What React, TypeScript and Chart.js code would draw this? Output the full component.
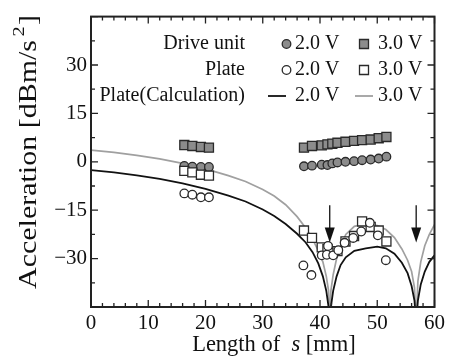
import React, { useEffect, useRef } from 'react';
import { Chart, registerables } from 'chart.js';

Chart.register(...registerables);

// ---- data ----
const leftX = [16.3, 17.7, 19.2, 20.6];
const rightX = [37.2, 38.6, 40.3, 41.3, 42.15, 43.05, 44.45, 45.95, 47.35, 48.85, 50.25, 51.6];

const drive2Left = [-1.3, -1.5, -1.6, -1.6];
const drive2Right = [-1.4, -1.2, -0.9, -1.0, -0.5, -0.2, 0, 0.2, 0.5, 0.7, 1.0, 1.6];
const drive3Left = [5.2, 4.9, 4.6, 4.4];
const drive3Right = [4.4, 4.9, 5.1, 5.4, 5.6, 5.9, 6.2, 6.5, 6.7, 6.9, 7.3, 7.7];

const plate2Left = [-9.8, -10.2, -11.0, -11.0];
const plate2RightX = [37.1, 38.5, 40.3, 41.2, 41.4, 42.3, 43.2, 44.3, 45.8, 47.2, 48.7, 50.1, 51.5];
const plate2Right = [-32.1, -35.1, -29.0, -28.8, -26.1, -29.0, -27.4, -25.1, -23.6, -21.6, -18.9, -22.8, -30.5];
const plate3Left = [-2.8, -3.3, -4.0, -4.3];
const plate3Right = [-21.3, -23.6, -26.5, -27.0, -28.3, -27.7, -24.7, -23.0, -18.5, -20.2, -21.3, -24.7];

const calcX = [0, 4, 8, 12, 16, 20, 24, 27, 30, 32, 34, 36, 37.5, 38.7, 39.7, 40.5, 41.1, 41.5, 41.7, 41.9,
  42.3, 42.9, 43.6, 44.5, 46, 48, 50, 51.5, 53, 54.3, 55.3, 56, 56.5, 56.8, 57.1, 57.6, 58.3, 59.1, 60];
const calc2 = [-2.6, -3.3, -4.2, -5.3, -6.7, -8.4, -10.5, -12.3, -14.8, -16.8, -19.3, -22.3, -25, -28, -31.5, -35.5, -40, -45, -50, -45,
  -40, -35.5, -32, -29.6, -27.6, -26.8, -26.3, -26.8, -28.5, -31.3, -34.5, -38.5, -43, -50, -43, -38, -34, -31, -29];
const calc3 = [3.6, 2.9, 2.0, 0.9, -0.5, -2.2, -4.3, -6.1, -8.6, -10.6, -13.3, -17, -20.5, -24, -27.5, -31, -35.5, -40, -50, -40,
  -35, -30, -26.5, -22.5, -20, -19.2, -19.8, -21, -23.5, -27, -30.5, -34, -39, -50, -37, -31, -26, -22.5, -19.5];

const arrowX = [41.7, 56.8];
const arrowTop = -13.5;
const arrowBottom = -25;

const xTicks = [0, 10, 20, 30, 40, 50, 60];
const yTicks = [-30, -15, 0, 15, 30];

const legendRows = ['Drive unit', 'Plate', 'Plate(Calculation)'];
const legendVolts = ['2.0 V', '3.0 V'];

const FAMILY = 'Liberation Serif';
const FONT = `"${FAMILY}", serif`;
const GREY = '#8c8c8c';
const EDGE = '#2a2a2a';
const LINE_GREY = '#a0a0a0';

const pts = (xs: number[], ys: number[]) => xs.map((x, i) => ({ x, y: ys[i] }));

function drawMarker(ctx: CanvasRenderingContext2D, kind: string, x: number, y: number, fill: string) {
  ctx.beginPath();
  if (kind === 'circle') ctx.arc(x, y, 4.3, 0, Math.PI * 2);
  else ctx.rect(x - 4.5, y - 4.5, 9, 9);
  ctx.fillStyle = fill;
  ctx.fill();
  ctx.lineWidth = 1.3;
  ctx.strokeStyle = EDGE;
  ctx.stroke();
}

const decor = {
  id: 'decor',
  afterDatasetsDraw(chart: any) {
    const { ctx, chartArea: a, scales } = chart;
    const xs = scales.x;
    const ys = scales.y;
    ctx.save();
    // frame
    ctx.strokeStyle = '#222';
    ctx.lineWidth = 2;
    ctx.strokeRect(a.left, a.top, a.right - a.left, a.bottom - a.top);
    // inward ticks
    ctx.lineWidth = 1.3;
    ctx.beginPath();
    for (let i = 0; i <= 30; i++) {
      const v = i * 2;
      const px = xs.getPixelForValue(v);
      const len = i % 5 === 0 ? 7 : 4;
      ctx.moveTo(px, a.bottom); ctx.lineTo(px, a.bottom - len);
      ctx.moveTo(px, a.top); ctx.lineTo(px, a.top + len);
    }
    for (let i = 0; i <= 12; i++) {
      const v = -45 + 7.5 * i;
      const py = ys.getPixelForValue(v);
      const len = i % 2 === 0 ? 7 : 4;
      ctx.moveTo(a.left, py); ctx.lineTo(a.left + len, py);
      ctx.moveTo(a.right, py); ctx.lineTo(a.right - len, py);
    }
    ctx.stroke();

    // arrows
    ctx.fillStyle = '#111';
    ctx.strokeStyle = '#111';
    ctx.lineWidth = 1.3;
    arrowX.forEach((v) => {
      const px = xs.getPixelForValue(v);
      const top = ys.getPixelForValue(arrowTop);
      const bot = ys.getPixelForValue(arrowBottom);
      ctx.beginPath();
      ctx.moveTo(px, top);
      ctx.lineTo(px, bot - 8);
      ctx.stroke();
      ctx.beginPath();
      ctx.moveTo(px - 5, bot - 15);
      ctx.lineTo(px + 5, bot - 15);
      ctx.lineTo(px, bot);
      ctx.closePath();
      ctx.fill();
    });

    // legend
    const rowY = [44, 70, 96];
    ctx.font = `20px ${FONT}`;
    ctx.fillStyle = '#111';
    ctx.textBaseline = 'middle';
    ctx.textAlign = 'right';
    legendRows.forEach((t, i) => ctx.fillText(t, 245, rowY[i]));
    ctx.textAlign = 'left';
    rowY.forEach((yy) => {
      ctx.fillStyle = '#111';
      ctx.fillText(legendVolts[0], 295, yy);
      ctx.fillText(legendVolts[1], 378, yy);
    });
    drawMarker(ctx, 'circle', 286.5, rowY[0], GREY);
    drawMarker(ctx, 'rect', 364, rowY[0], GREY);
    drawMarker(ctx, 'circle', 286.5, rowY[1], '#fff');
    drawMarker(ctx, 'rect', 364, rowY[1], '#fff');
    ctx.lineWidth = 1.8;
    ctx.strokeStyle = '#111';
    ctx.beginPath(); ctx.moveTo(268, rowY[2]); ctx.lineTo(286, rowY[2]); ctx.stroke();
    ctx.strokeStyle = LINE_GREY;
    ctx.beginPath(); ctx.moveTo(355, rowY[2]); ctx.lineTo(373, rowY[2]); ctx.stroke();

    // x axis title with italic s
    ctx.fillStyle = '#111';
    ctx.textBaseline = 'middle';
    ctx.textAlign = 'left';
    const f = `22.5px ${FONT}`;
    const fi = `italic 22.5px ${FONT}`;
    const p1 = 'Length of  ';
    const p2 = 's';
    const p3 = ' [mm]';
    ctx.font = f; const w1 = ctx.measureText(p1).width; const w3 = ctx.measureText(p3).width;
    ctx.font = fi; const w2 = ctx.measureText(p2).width;
    let sx = 274 - (w1 + w2 + w3) / 2;
    const ty = 345;
    ctx.font = f; ctx.fillText(p1, sx, ty); sx += w1;
    ctx.font = fi; ctx.fillText(p2, sx, ty); sx += w2;
    ctx.font = f; ctx.fillText(p3, sx, ty);

    // y axis title with superscript, stretched along its length like the reference
    ctx.save();
    ctx.translate(29, 152);
    ctx.rotate(-Math.PI / 2);
    const q1 = 'Acceleration [dBm/s';
    const q2 = '2';
    const q3 = ']';
    const fy = `25px ${FONT}`;
    const fs = `17px ${FONT}`;
    ctx.font = fy; const v1 = ctx.measureText(q1).width; const v3 = ctx.measureText(q3).width;
    ctx.font = fs; const v2 = ctx.measureText(q2).width + 4;
    const total = v1 + v2 + v3;
    const k = 274 / total;
    ctx.scale(k, 1);
    let yx = -total / 2;
    ctx.font = fy; ctx.fillText(q1, yx, 0); yx += v1;
    ctx.font = fs; ctx.fillText(q2, yx + 3, -9); yx += v2;
    ctx.font = fy; ctx.fillText(q3, yx, 0);
    ctx.restore();

    ctx.restore();
  },
};

export default function App() {
  const ref = useRef<HTMLCanvasElement | null>(null);
  useEffect(() => {
    let chart: Chart | null = null;
    let cancelled = false;
    const build = () => {
      if (cancelled || !ref.current) return;
      const circle = (data: any[], fill: string, order: number) => ({
        type: 'scatter', data, pointStyle: 'circle', pointRadius: 4.3, pointBackgroundColor: fill,
        pointBorderColor: EDGE, pointBorderWidth: 1.3, showLine: false, order,
      });
      const square = (data: any[], fill: string, order: number) => ({
        type: 'scatter', data, pointStyle: 'rect', pointRadius: 6.4, pointBackgroundColor: fill,
        pointBorderColor: EDGE, pointBorderWidth: 1.3, showLine: false, order,
      });
      chart = new Chart(ref.current, {
        type: 'scatter',
        data: {
          datasets: [
            { type: 'line', data: pts(calcX, calc3), borderColor: LINE_GREY, borderWidth: 1.7, pointRadius: 0, fill: false, tension: 0, order: 10 } as any,
            { type: 'line', data: pts(calcX, calc2), borderColor: '#111', borderWidth: 1.8, pointRadius: 0, fill: false, tension: 0, order: 9 } as any,
            square([...pts(leftX, drive3Left), ...pts(rightX, drive3Right)], GREY, 5) as any,
            circle([...pts(leftX, drive2Left), ...pts(rightX, drive2Right)], GREY, 4) as any,
            square([...pts(leftX, plate3Left), ...pts(rightX, plate3Right)], '#fff', 3) as any,
            circle([...pts(leftX, plate2Left), ...pts(plate2RightX, plate2Right)], '#fff', 2) as any,
          ],
        },
        options: {
          animation: false,
          responsive: false,
          devicePixelRatio: 1,
          layout: { padding: { top: 15, right: 12, left: 0, bottom: 0 } },
          plugins: { legend: { display: false }, tooltip: { enabled: false } },
          scales: {
            x: {
              type: 'linear', min: 0, max: 60,
              afterFit: (s: any) => { s.height = 56; },
              afterBuildTicks: (s: any) => { s.ticks = xTicks.map((v) => ({ value: v })); },
              grid: { display: false, drawTicks: false },
              border: { display: false },
              ticks: { padding: 4, color: '#111', font: { family: FONT, size: 21 }, maxRotation: 0, autoSkip: false },
            },
            y: {
              type: 'linear', min: -45, max: 45,
              afterFit: (s: any) => { s.width = 91; },
              afterBuildTicks: (s: any) => { s.ticks = yTicks.map((v) => ({ value: v })); },
              grid: { display: false, drawTicks: false },
              border: { display: false },
              ticks: {
                padding: 4, color: '#111', font: { family: FONT, size: 21 }, autoSkip: false,
                callback: (v: any) => (v < 0 ? '\u2212' + Math.abs(v) : String(v)),
              },
            },
          },
        } as any,
        plugins: [decor],
      });
    };
    const fonts = (document as any).fonts;
    if (fonts && fonts.load) {
      Promise.all([
        fonts.load(`20px "${FAMILY}"`),
        fonts.load(`italic 20px "${FAMILY}"`),
      ]).then(build, build);
    } else {
      build();
    }
    return () => {
      cancelled = true;
      if (chart) chart.destroy();
    };
  }, []);
  return (
    <div style={{ position: 'fixed', left: 0, top: 0, width: 449, height: 363, background: '#fff' }}>
      <canvas ref={ref} width={449} height={363} style={{ width: 449, height: 363 }} />
    </div>
  );
}
